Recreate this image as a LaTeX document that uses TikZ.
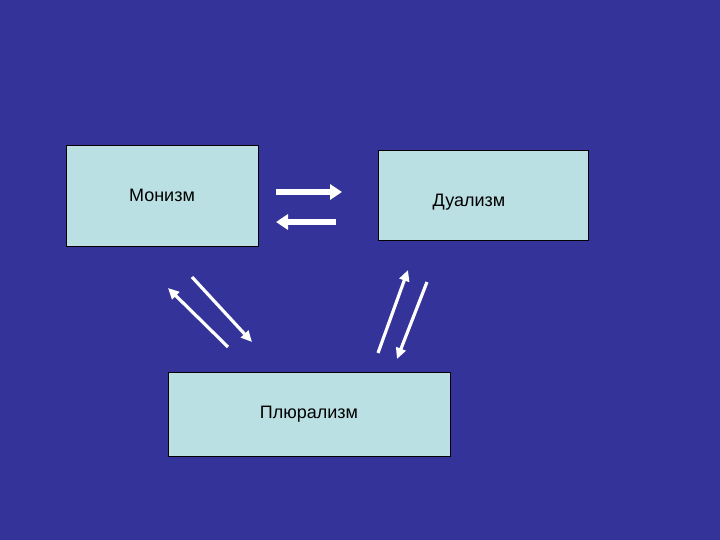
\documentclass[tikz,border=0pt]{standalone}
\usepackage{fontspec}
\setmainfont{Liberation Sans}
\usepackage{xcolor}
\usepackage{tikz}
\usetikzlibrary{positioning,calc,arrows.meta}

\definecolor{slidebg}{HTML}{333399}
\definecolor{boxfill}{HTML}{BBE0E3}

\tikzset{
    box/.style={draw=black, line width=0.8pt, fill=boxfill, inner sep=0pt, font=\fontsize{18}{21}\selectfont},
    fatarrow/.style={draw=white, line width=6pt, -{Triangle[length=12pt, width=15pt]}},
    thinarrow/.style={draw=white, line width=3.2pt, -{Triangle[length=11pt, width=10pt]}}
}

\begin{document}
\begin{tikzpicture}[x=1pt, y=-1pt]
    % Background
    \fill[slidebg] (0,0) rectangle (720,540);
    \useasboundingbox (0,0) rectangle (720,540);

    % Monism
    \node[box, minimum width=192pt, minimum height=101pt] (mon) at (162,195.5) {Монизм};

    % Dualism
    \node[box, minimum width=210pt, minimum height=90pt] (dual) at (483,195) {};
    \node[font=\fontsize{18}{21}\selectfont] (dualtext) at (469,202) {Дуализм};

    % Pluralism
    \node[box, minimum width=282pt, minimum height=84pt] (plur) at (309,414) {Плюрализм};

    % Arrows between Monism and Dualism
    \coordinate (md1) at (276,192);
    \coordinate (md2) at (342,192);
    \coordinate (dm1) at (336,222);
    \coordinate (dm2) at (276,222);
    \draw[fatarrow] (md1) -- (md2);
    \draw[fatarrow] (dm1) -- (dm2);

    % Arrows between Monism and Pluralism
    \coordinate (pm1) at (228,347);
    \coordinate (pm2) at (168,288);
    \coordinate (mp1) at (192,277);
    \coordinate (mp2) at (252,342);
    \draw[thinarrow] (pm1) -- (pm2);
    \draw[thinarrow] (mp1) -- (mp2);

    % Arrows between Dualism and Pluralism
    \coordinate (pd1) at (378,353);
    \coordinate (pd2) at (408,270);
    \coordinate (dp1) at (427,282);
    \coordinate (dp2) at (397,359);
    \draw[thinarrow] (pd1) -- (pd2);
    \draw[thinarrow] (dp1) -- (dp2);
\end{tikzpicture}
\end{document}
